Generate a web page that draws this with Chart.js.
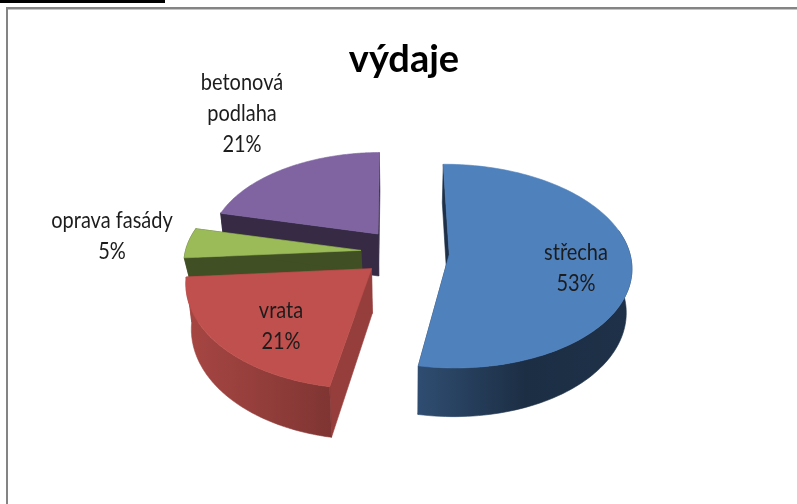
<!DOCTYPE html>
<html><head><meta charset="utf-8">
<style>
html,body{margin:0;padding:0;background:#fff;width:797px;height:504px;overflow:hidden}
#c{position:absolute;left:0;top:0}
.f{position:absolute}
</style>
<script src="https://cdn.jsdelivr.net/npm/chart.js@4"></script>
</head><body>
<canvas id="c" width="797" height="504"></canvas>
<div class="f" style="left:0;top:0;width:165px;height:3px;background:#000"></div>
<div class="f" style="left:6px;top:7px;width:791px;height:2px;background:#848484"></div>
<div class="f" style="left:8px;top:9px;width:789px;height:1px;background:#c4c4c4"></div>
<div class="f" style="left:6px;top:7px;width:2px;height:497px;background:#848484"></div>
<script>
const titleText = 'výdaje';
const categories = ['střecha', 'vrata', 'oprava fasády', 'betonová podlaha'];
const values = [52.8, 20.8, 5.0, 21.0];
const percentLabels = ['53%', '21%', '5%', '21%'];
const colors = ['#4f81bd', '#c0504d', '#9bbb59', '#8064a2'];

// style and layout (not data)
const explode = 40;
const wallShade = [0.38, 0.78, 0.42, 0.42];
const bandShades = [[.6, .36, .38], [.87, .77, .66], [.42, .42, .42], [.42, .42, .42]];
const view = {sx: 185, sy: 100, persp: 0.115, depth: 43, narrow: 0.025, unit: 167, dx: 1};
const rimScaleX = [0.975, 0.975, 0.95, 0.92];
const rimScaleY = [1, 1.02, 0.95, 0.94];
const depthScale = [1, 1.02, 0.5, 1];
const labelLines = [['střecha'], ['vrata'], ['oprava fasády'], ['betonová', 'podlaha']];
const labelAnchor = [[576, 253], [281, 311], [112, 221], [242, 83]];
const labelStep = 31;
const labelStretch = 1.15;

function rgb(hex, f) {
  const n = parseInt(hex.slice(1), 16);
  return `rgb(${Math.round((n >> 16 & 255) * f)},${Math.round((n >> 8 & 255) * f)},${Math.round((n & 255) * f)})`;
}

const pie3d = {
  id: 'pie3d',
  beforeDatasetsDraw(chart) {
    const ctx = chart.ctx;
    const arcs = chart.getDatasetMeta(0).data;
    const cx = arcs[0].x + view.dx, cy = arcs[0].y;
    const poly = (pts, fill) => {
      ctx.beginPath();
      pts.forEach((p, i) => i ? ctx.lineTo(p[0], p[1]) : ctx.moveTo(p[0], p[1]));
      ctx.closePath();
      ctx.fillStyle = fill; ctx.strokeStyle = fill; ctx.lineWidth = 0.6;
      ctx.fill(); ctx.stroke();
    };
    const order = arcs.map((a, i) => i).sort((p, q) =>
      Math.sin((arcs[p].startAngle + arcs[p].endAngle) / 2) -
      Math.sin((arcs[q].startAngle + arcs[q].endAngle) / 2));
    order.forEach(i => {
      const proj = (u, v, z) => {
        const w = 1 - view.persp * v;
        return [cx + view.sx * u / w * (1 - view.narrow * z),
                cy + (view.sy * v + view.depth * depthScale[i] * z) / w];
      };
      const a = arcs[i], mid = (a.startAngle + a.endAngle) / 2;
      const ou = Math.cos(mid) * a.options.offset / view.unit;
      const ov = Math.sin(mid) * a.options.offset / view.unit;
      const n = 120, rim = [];
      for (let k = 0; k <= n; k++) {
        const t = a.startAngle + (a.endAngle - a.startAngle) * k / n;
        rim.push([ou + rimScaleX[i] * Math.cos(t), ov + rimScaleY[i] * Math.sin(t), t]);
      }
      const wall = rgb(colors[i], wallShade[i]);
      const first = rim[0], last = rim[n];
      poly([proj(ou, ov, 0), proj(first[0], first[1], 0), proj(first[0], first[1], 1), proj(ou, ov, 1)], wall);
      poly([proj(ou, ov, 0), proj(last[0], last[1], 0), proj(last[0], last[1], 1), proj(ou, ov, 1)], wall);
      const front = rim.filter(p => Math.sin(p[2]) > -0.25);
      if (front.length > 1) {
        const topEdge = front.map(p => proj(p[0], p[1], 0));
        const botEdge = front.map(p => proj(p[0], p[1], 1)).reverse();
        const xs = topEdge.concat(botEdge).map(p => p[0]);
        const g = ctx.createLinearGradient(Math.min(...xs), 0, Math.max(...xs), 0);
        bandShades[i].forEach((f, j) => g.addColorStop(j / (bandShades[i].length - 1), rgb(colors[i], f)));
        poly(topEdge.concat(botEdge), g);
      }
      poly([proj(ou, ov, 0)].concat(rim.map(p => proj(p[0], p[1], 0))), colors[i]);
    });
    ctx.save();
    ctx.fillStyle = '#1c1c1c';
    ctx.font = '20px Lato';
    ctx.textAlign = 'center';
    ctx.textBaseline = 'middle';
    categories.forEach((c, i) => {
      const lines = labelLines[i].concat(percentLabels[i]);
      lines.forEach((s, j) => {
        ctx.save();
        ctx.translate(labelAnchor[i][0], labelAnchor[i][1] + j * labelStep);
        ctx.scale(1, labelStretch);
        ctx.fillText(s, 0, 0);
        ctx.restore();
      });
    });
    ctx.restore();
    return false;
  }
};

new Chart(document.getElementById('c'), {
  type: 'pie',
  data: {labels: categories, datasets: [{data: values, backgroundColor: colors, offset: explode, borderWidth: 0}]},
  options: {
    responsive: false, animation: false, rotation: -0.5,
    layout: {padding: {left: 11, top: 0, right: 0, bottom: 88}},
    plugins: {
      legend: {display: false}, tooltip: {enabled: false},
      title: {display: true, text: titleText, color: '#000',
        font: {family: 'Lato', size: 38, weight: 'bold'}, padding: {top: 37, bottom: 6}}
    }
  },
  plugins: [pie3d]
});
</script>
</body></html>
